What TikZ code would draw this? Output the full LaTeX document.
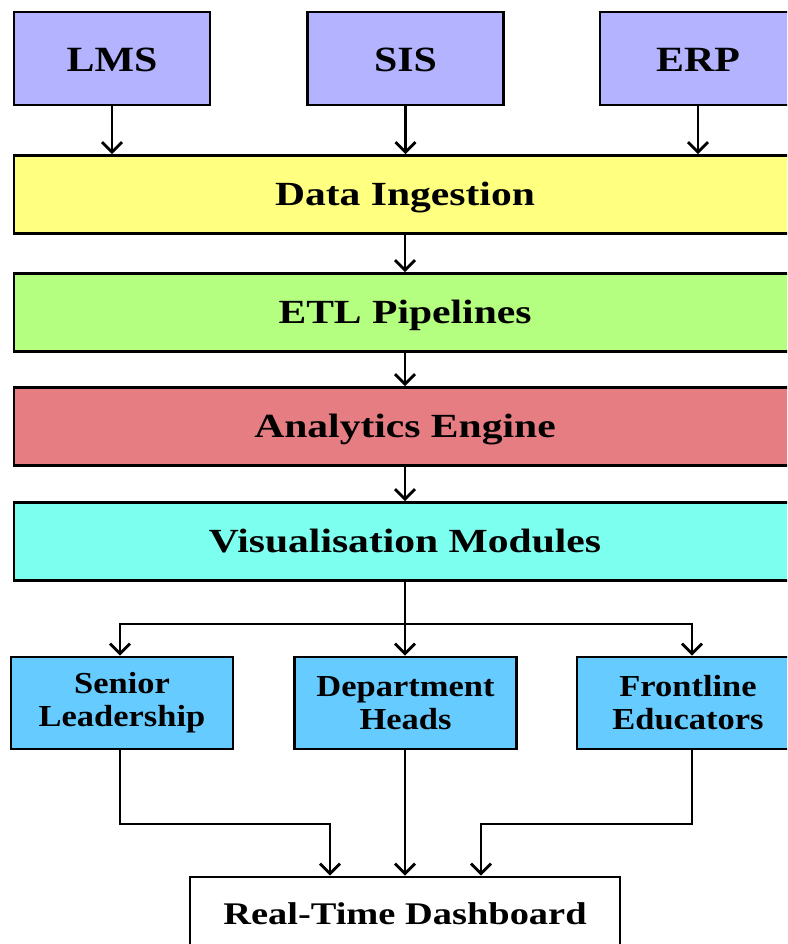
\documentclass[tikz,border=0pt]{standalone}
\usepackage{fontspec}
\setmainfont{Liberation Serif}
\newfontfamily\srcfont{Liberation Serif}[FakeStretch=1.18]
\newfontfamily\barfont{Liberation Serif}[FakeStretch=1.23]
\newfontfamily\rolefont{Liberation Serif}[FakeStretch=1.13]
\newfontfamily\dashfont{Liberation Serif}[FakeStretch=1.22]
\usetikzlibrary{arrows.meta}

\definecolor{srcfill}{RGB}{179,179,255}
\definecolor{ingestfill}{RGB}{255,255,128}
\definecolor{etlfill}{RGB}{180,255,128}
\definecolor{enginefill}{RGB}{230,125,130}
\definecolor{visfill}{RGB}{125,255,240}
\definecolor{rolefill}{RGB}{102,204,255}

\begin{document}
\begin{tikzpicture}[x=1pt,y=-1pt,
  box/.style={draw=black, line width=2.8pt, rectangle, inner sep=0pt, align=center, text=black},
  srcbox/.style={box, fill=srcfill, minimum width=196pt, minimum height=93pt,
    text height=27pt, text depth=0pt,
    font=\srcfont\bfseries\fontsize{35.5}{40}\selectfont},
  barbox/.style={box, minimum width=782pt, minimum height=78pt,
    text height=22pt, text depth=0pt,
    font=\barfont\bfseries\fontsize{33.8}{38}\selectfont},
  rolebox/.style={box, fill=rolefill, minimum width=222pt, minimum height=92pt,
    font=\rolefont\bfseries\fontsize{30.5}{34}\selectfont},
  dashbox/.style={box, fill=white, minimum width=430pt, minimum height=80pt,
    text height=14pt, text depth=0pt,
    font=\dashfont\bfseries\fontsize{31.5}{36}\selectfont},
  arr/.style={draw=black, line width=2.8pt,
    -{Straight Barb[length=10pt,width=20pt,line width=2.8pt]}},
  lnk/.style={draw=black, line width=2.8pt}
]
\clip (0,0) rectangle (787,944);
\fill[white] (0,0) rectangle (787,944);

% source systems
\node[srcbox] (lms) at (112,58.5) {LMS};
\node[srcbox] (sis) at (405.5,58.5) {SIS};
\node[srcbox] (erp) at (698,58.5) {ERP};

% processing stages
\node[barbox, fill=ingestfill] (ingest) at (405,194.5) {Data Ingestion};
\node[barbox, fill=etlfill] (etl) at (405,312.5) {ETL Pipelines};
\node[barbox, fill=enginefill] (engine) at (405,426.5) {Analytics Engine};
\node[barbox, fill=visfill] (vis) at (405,541.5) {Visualisation Modules};

% audiences
\node[rolebox] (senior) at (122,703) {Senior\\[-1pt]Leadership};
\node[rolebox] (depthead) at (405.5,703) {Department\\[-1pt]Heads};
\node[rolebox] (front) at (688,703) {Frontline\\[-1pt]Educators};

% dashboard
\node[dashbox] (dash) at (405,917) {Real-Time Dashboard};

% sources into ingestion
\draw[arr] (lms.south) -- (lms.south |- ingest.north);
\draw[arr] (sis.south) -- (sis.south |- ingest.north);
\draw[arr] (erp.south) -- (erp.south |- ingest.north);

% pipeline chain
\draw[arr] (ingest.south) -- (etl.north);
\draw[arr] (etl.south) -- (engine.north);
\draw[arr] (engine.south) -- (vis.north);

% fan-out to audiences
\coordinate (split) at (405,624);
\coordinate (sl) at (120,624);
\coordinate (sr) at (692,624);
\draw[lnk] (vis.south) -- (split);
\draw[arr] (split) -- (sl) -- (sl |- senior.north);
\draw[arr] (split) -- (split |- depthead.north);
\draw[arr] (split) -- (sr) -- (sr |- front.north);

% merge into dashboard
\coordinate (jl) at (330,824);
\coordinate (jr) at (481,824);
\draw[arr] (senior.south -| sl) |- (jl) -- (jl |- dash.north);
\draw[arr] (depthead.south -| split) -- (split |- dash.north);
\draw[arr] (front.south -| sr) |- (jr) -- (jr |- dash.north);
\end{tikzpicture}
\end{document}
